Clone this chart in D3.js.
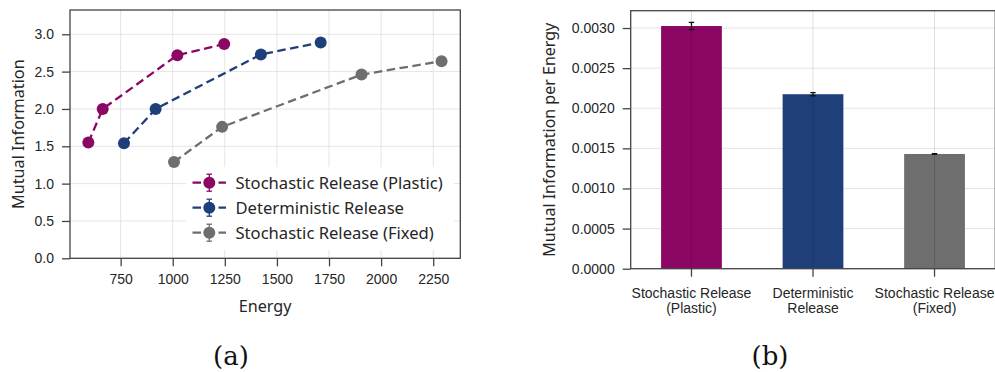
<!DOCTYPE html>
<html>
<head>
<meta charset="utf-8">
<script src="https://cdn.jsdelivr.net/npm/d3@7"></script>
<style>
  body { margin: 0; background: #fff; }
  svg { display: block; font-family: "Noto Sans", "Open Sans", sans-serif; }
  .tick text { fill: #262626; font-size: 14px; }
  .domain { display: none; }
  .tick line { stroke: #444; stroke-width: 1.3; }
</style>
</head>
<body>
<svg id="canvas"></svg>
<script>
// panel (a): energy vs mutual information
let energyPlastic = [595, 664, 1022, 1247]
let miPlastic = [1.55, 2.00, 2.72, 2.87]
let energyDet = [766, 918, 1423, 1710]
let miDet = [1.54, 2.00, 2.73, 2.89]
let energyFixed = [1006, 1237, 1906, 2290]
let miFixed = [1.29, 1.76, 2.46, 2.64]

let seriesNames = ['Stochastic Release (Plastic)', 'Deterministic Release', 'Stochastic Release (Fixed)']
let seriesColors = ['#8c0764', '#1f3f7a', '#6e6e6e']

let xTicksA = [750, 1000, 1250, 1500, 1750, 2000, 2250]
let yTicksA = [0, 0.5, 1, 1.5, 2, 2.5, 3]

// panel (b): mutual information per energy
let categories = [['Stochastic Release', '(Plastic)'], ['Deterministic', 'Release'], ['Stochastic Release', '(Fixed)']]
let miPerEnergy = [0.003025, 0.002175, 0.00143]
let miPerEnergyErr = [0.000045, 0.00002, 0.000004]
let yTicksB = [0, 0.0005, 0.001, 0.0015, 0.002, 0.0025, 0.003]

let width = 995
let height = 372
let svg = d3.select('#canvas').attr('width', width).attr('height', height)

let gridColor = '#e4e4e4'
let spineColor = '#444'
let textColor = '#262626'

// ---------- panel (a) ----------
let a = {left: 70, right: 460.3, top: 10, bottom: 258.3}

let xA = d3.scaleLinear().domain([507, 2380]).range([a.left, a.right])
let yA = d3.scaleLinear().domain([0, 3.325]).range([a.bottom, a.top])

let gA = svg.append('g')

gA.selectAll('.vgrid').data(xTicksA).join('line')
    .attr('x1', d => xA(d)).attr('x2', d => xA(d))
    .attr('y1', a.top).attr('y2', a.bottom)
    .attr('stroke', gridColor).attr('stroke-width', 1)
gA.selectAll('.hgrid').data(yTicksA).join('line')
    .attr('x1', a.left).attr('x2', a.right)
    .attr('y1', d => yA(d)).attr('y2', d => yA(d))
    .attr('stroke', gridColor).attr('stroke-width', 1)

gA.append('g').attr('transform', 'translate(0,' + a.bottom + ')')
    .call(d3.axisBottom(xA).tickValues(xTicksA).tickFormat(d3.format('d')).tickSize(8).tickPadding(8))
gA.append('g').attr('transform', 'translate(' + a.left + ',0)')
    .call(d3.axisLeft(yA).tickValues(yTicksA).tickFormat(d3.format('.1f')).tickSize(8).tickPadding(8))

let seriesA = [
    {x: energyPlastic, y: miPlastic},
    {x: energyDet, y: miDet},
    {x: energyFixed, y: miFixed}
]

let line = d3.line().x(d => xA(d[0])).y(d => yA(d[1]))

seriesA.forEach((s, i) => {
    let pts = s.x.map((v, j) => [v, s.y[j]])
    gA.append('path').datum(pts)
        .attr('d', line)
        .attr('fill', 'none')
        .attr('stroke', seriesColors[i])
        .attr('stroke-width', 2.3)
        .attr('stroke-dasharray', '8.5,4.5')
    gA.selectAll('.pt' + i).data(pts).join('circle')
        .attr('cx', d => xA(d[0])).attr('cy', d => yA(d[1]))
        .attr('r', 6).attr('fill', seriesColors[i])
})

// legend with white background
let leg = gA.append('g')
leg.append('rect').attr('x', 186).attr('y', 167).attr('width', 268).attr('height', 83).attr('fill', '#fff')
seriesNames.forEach((name, i) => {
    let cy = 182.7 + i * 25
    let c = seriesColors[i]
    let row = leg.append('g')
    row.append('line').attr('x1', 192.5).attr('x2', 226).attr('y1', cy).attr('y2', cy)
        .attr('stroke', c).attr('stroke-width', 2.3).attr('stroke-dasharray', '8.5,4.5')
    row.append('line').attr('x1', 209.3).attr('x2', 209.3).attr('y1', cy - 8.5).attr('y2', cy + 8.5)
        .attr('stroke', c).attr('stroke-width', 1.3)
    row.append('line').attr('x1', 206.5).attr('x2', 212).attr('y1', cy - 8.5).attr('y2', cy - 8.5)
        .attr('stroke', c).attr('stroke-width', 1.3)
    row.append('line').attr('x1', 206.5).attr('x2', 212).attr('y1', cy + 8.5).attr('y2', cy + 8.5)
        .attr('stroke', c).attr('stroke-width', 1.3)
    row.append('circle').attr('cx', 209.3).attr('cy', cy).attr('r', 6).attr('fill', c)
    row.append('text').attr('x', 235.5).attr('y', cy).attr('dy', '0.36em')
        .attr('font-size', '16.6px').attr('fill', textColor).text(name)
})

gA.append('rect').attr('x', a.left).attr('y', a.top)
    .attr('width', a.right - a.left).attr('height', a.bottom - a.top)
    .attr('fill', 'none').attr('stroke', spineColor).attr('stroke-width', 1.3)

gA.append('text').attr('x', (a.left + a.right) / 2).attr('y', 311.5)
    .attr('text-anchor', 'middle').attr('font-size', '16.2px').attr('fill', textColor).text('Energy')
gA.append('text').attr('transform', 'translate(24,' + ((a.top + a.bottom) / 2) + ') rotate(-90)')
    .attr('text-anchor', 'middle').attr('font-size', '16.2px').attr('fill', textColor).text('Mutual Information')

// ---------- panel (b) ----------
let b = {left: 630.7, right: 995.3, top: 10.7, bottom: 268.7}

let xB = d3.scaleBand().domain(d3.range(categories.length)).range([b.left, b.right])
    .paddingInner(0.5).paddingOuter(0.25)
let yB = d3.scaleLinear().domain([0, 0.003216]).range([b.bottom, b.top])

let gB = svg.append('g')

gB.selectAll('.hgrid').data(yTicksB).join('line')
    .attr('x1', b.left).attr('x2', b.right)
    .attr('y1', d => yB(d)).attr('y2', d => yB(d))
    .attr('stroke', gridColor).attr('stroke-width', 1)

gB.selectAll('.bar').data(miPerEnergy).join('rect')
    .attr('x', (d, i) => xB(i)).attr('width', xB.bandwidth())
    .attr('y', d => yB(d)).attr('height', d => b.bottom - yB(d))
    .attr('fill', (d, i) => seriesColors[i])

// vertical grid drawn over the bars, faint
gB.selectAll('.vgrid').data(d3.range(categories.length)).join('line')
    .attr('x1', i => xB(i) + xB.bandwidth() / 2).attr('x2', i => xB(i) + xB.bandwidth() / 2)
    .attr('y1', b.top).attr('y2', b.bottom)
    .attr('stroke', 'rgba(0,0,0,0.13)').attr('stroke-width', 1)

// error bars
miPerEnergy.forEach((v, i) => {
    let cx = xB(i) + xB.bandwidth() / 2
    let e = miPerEnergyErr[i]
    gB.append('line').attr('x1', cx).attr('x2', cx).attr('y1', yB(v - e)).attr('y2', yB(v + e))
        .attr('stroke', '#111').attr('stroke-width', 1.3)
    ;[v - e, v + e].forEach(t => {
        gB.append('line').attr('x1', cx - 2.7).attr('x2', cx + 2.7).attr('y1', yB(t)).attr('y2', yB(t))
            .attr('stroke', '#111').attr('stroke-width', 1.3)
    })
})

let xAxisB = gB.append('g').attr('transform', 'translate(0,' + b.bottom + ')')
    .call(d3.axisBottom(xB).tickSize(8).tickPadding(8).tickFormat(''))
xAxisB.selectAll('.tick').each(function (i) {
    let t = d3.select(this).append('text').attr('fill', textColor).attr('text-anchor', 'middle')
        .style('font-size', '14px')
    categories[i].forEach((s, k) => {
        t.append('tspan').attr('x', 0).attr('y', 29 + k * 15.5).text(s)
    })
})

gB.append('g').attr('transform', 'translate(' + b.left + ',0)')
    .call(d3.axisLeft(yB).tickValues(yTicksB).tickFormat(d3.format('.4f')).tickSize(8).tickPadding(8))

gB.append('rect').attr('x', b.left).attr('y', b.top)
    .attr('width', b.right - b.left).attr('height', b.bottom - b.top)
    .attr('fill', 'none').attr('stroke', spineColor).attr('stroke-width', 1.3)

gB.append('text').attr('transform', 'translate(555,' + ((b.top + b.bottom) / 2) + ') rotate(-90)')
    .attr('text-anchor', 'middle').attr('font-size', '16px').attr('fill', textColor)
    .text('Mutual Information per Energy')

// sub-figure captions
svg.append('text').attr('x', 231).attr('y', 365).attr('text-anchor', 'middle')
    .attr('font-family', '"DejaVu Serif", serif').attr('font-size', '26px')
    .attr('fill', '#111').text('(a)')
svg.append('text').attr('x', 770).attr('y', 365).attr('text-anchor', 'middle')
    .attr('font-family', '"DejaVu Serif", serif').attr('font-size', '26px')
    .attr('fill', '#111').text('(b)')
</script>
</body>
</html>
